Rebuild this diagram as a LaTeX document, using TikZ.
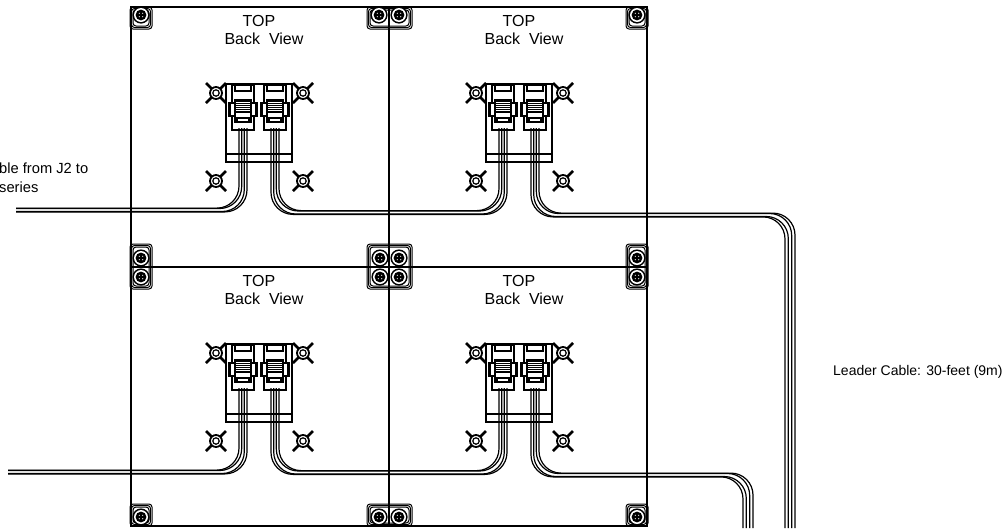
\documentclass[tikz,border=0pt]{standalone}
\usepackage{fontspec}
\setmainfont{Liberation Sans}
\usetikzlibrary{calc}
\def\panelsep{260}
\def\bendrad{22pt}

% plug from its top centre
\def\plugunit#1#2{
    \begin{scope}[shift={(#1,#2)}]
        \draw[plugline] (-11,0) rectangle (11,45);
        \draw[plugline] (-8,0) rectangle (8,6);
        \draw[line width=1.6pt,dash pattern=on 1pt off 0.6pt] (-11,6) -- (11,6);
        \draw[plugline, fill=white] (-14,18) rectangle (14,31);
        \draw[line width=1.8pt] (-13,18) -- (-13,31) (13,18) -- (13,31);
        \draw[plugline, fill=white] (-8,15) rectangle (8,37);
        \foreach \y in {16.5,18.5,...,26.5}
            \draw[line width=1.4pt] (-8,\y) -- (8,\y);
        \draw[plugline] (-8,27) -- (8,27);
        \draw[plugline] (-6,33) rectangle (6,37);
    \end{scope}
}

% cable between two plugs, under them
\def\linkcable#1#2#3{
    \foreach \dx/\dy/\ex in {-4/1.9/4,-1.3/1.5/1.3,1.3/-1.5/-1.3,4/-1.9/-4}
        \draw[strand] ($(#1)+(\dx,0)$) |- ($(#2 |- #3)+(\ex,\dy)$) -- ($(#2)+(\ex,0)$);
}

% cable from a plug to the right, then down
\def\leadcable#1#2#3{
    \foreach \dx/\dy/\ex in {-4/1.9/-5,-1.3/1.5/-1.7,1.3/-1.5/1.7,4/-1.9/5}
        \draw[strand] ($(#1)+(\dx,0)$) |- ($(#3 |- #2)+(\ex,\dy)$) -- ($(#3)+(\ex,0)$);
}

\begin{document}
\begin{tikzpicture}[x=1pt,y=-1pt]
    \tikzstyle{panelline}=[line width=1.7pt]
    \tikzstyle{plugline}=[line width=1.2pt]
    \tikzstyle{housing}=[line width=1pt,rounded corners=3pt]
    \tikzstyle{strand}=[line width=1.2pt,rounded corners=\bendrad]
    \tikzstyle{annot}=[inner sep=0pt,font=\fontsize{14}{19}\selectfont]
    \tikzstyle{viewtext}=[inner sep=0pt,font=\fontsize{16}{18}\selectfont]

    \useasboundingbox (0,0) rectangle (1003,528);

    % Draw what every panel carries
    \foreach \name / \px / \py in {1/0/0,2/\panelsep/0,3/0/\panelsep,4/\panelsep/\panelsep} {
        \begin{scope}[shift={(\px,\py)}]
            \node[viewtext] (T-\name) at (259,21) {TOP};
            \node[viewtext] (V-\name) at (264,39) {Back\ \ View};

            % mounting bolts
            \foreach \bx / \by in {216/93,303/93,216/181,303/181} {
                \draw[line width=2.8pt] (\bx-10,\by-10) -- (\bx+10,\by+10) (\bx-10,\by+10) -- (\bx+10,\by-10);
                \draw[line width=1.8pt, fill=white] (\bx,\by) circle (6);
                \draw[line width=1.2pt] (\bx,\by) circle (3.2);
            }

            % bracket behind the plugs
            \draw[plugline] (226,84) rectangle (292,162);
            \draw[plugline] (226,154) -- (292,154);

            \plugunit{243}{85}
            \plugunit{275}{85}
            \coordinate (L-\name) at (243,128);
            \coordinate (R-\name) at (275,128);
        \end{scope}
    }

    % Draw the cable levels and free ends
    \coordinate (E-1) at (16,210);
    \coordinate (C-1) at (400,212.5);
    \coordinate (C-2) at (600,215);
    \coordinate (D-2) at (790,528);
    \coordinate (E-3) at (8,472);
    \coordinate (C-3) at (400,472.5);
    \coordinate (C-4) at (600,475);
    \coordinate (D-4) at (748,528);

    % Connect the plugs with the cables
    \foreach \dx / \dy in {4/1.9,1.3/1.5,-1.3/-1.5,-4/-1.9} {
        \draw[strand] ($(L-1)+(\dx,0)$) |- ($(E-1)+(0,\dy)$);
        \draw[strand] ($(L-3)+(\dx,0)$) |- ($(E-3)+(0,\dy)$);
    }
    \linkcable{R-1}{L-2}{C-1}
    \linkcable{R-3}{L-4}{C-3}
    \leadcable{R-2}{C-2}{D-2}
    \leadcable{R-4}{C-4}{D-4}

    % Draw the panel edges
    \draw[panelline] (131,7) rectangle (647,526);
    \draw[panelline] (389,7) -- (389,526);
    \draw[panelline] (131,267) -- (647,267);

    % Draw the corner housings
    \foreach \xa / \ya / \xb / \yb in {130/7/152/29,367/7/412/29,626/7/648/29,
                                       130/244/152/289,367/244/412/289,626/244/648/289,
                                       130/504/152/526,367/504/412/526,626/504/648/526}
        \foreach \d in {0,1.5,3}
            \draw[housing] (\xa+\d,\ya+\d) rectangle (\xb-\d,\yb-\d);

    % Draw the corner jacks
    \foreach \jx / \jy in {141/15,379/15,399/15,637/15,
                           141/258,141/277,380/258,399/258,380/277,399/277,637/258,637/277,
                           141/517,379/517,399/517,637/517} {
        \fill (\jx,\jy) circle (8.6);
        \fill[white] (\jx,\jy) circle (7);
        \fill (\jx,\jy) circle (5.4);
        \foreach \a in {45,135,225,315}
            \fill[white] (\jx,\jy) ++(\a:2.4) circle (0.6);
    }

    \node[annot,anchor=base west,align=left,font=\fontsize{14.7}{19}\selectfont] (jumper) at (-1,192) {ble from J2 to\\series};
    \node[annot,anchor=west] (leader) at (833,372) {Leader Cable: 30-feet (9m)};
\end{tikzpicture}
\end{document}
